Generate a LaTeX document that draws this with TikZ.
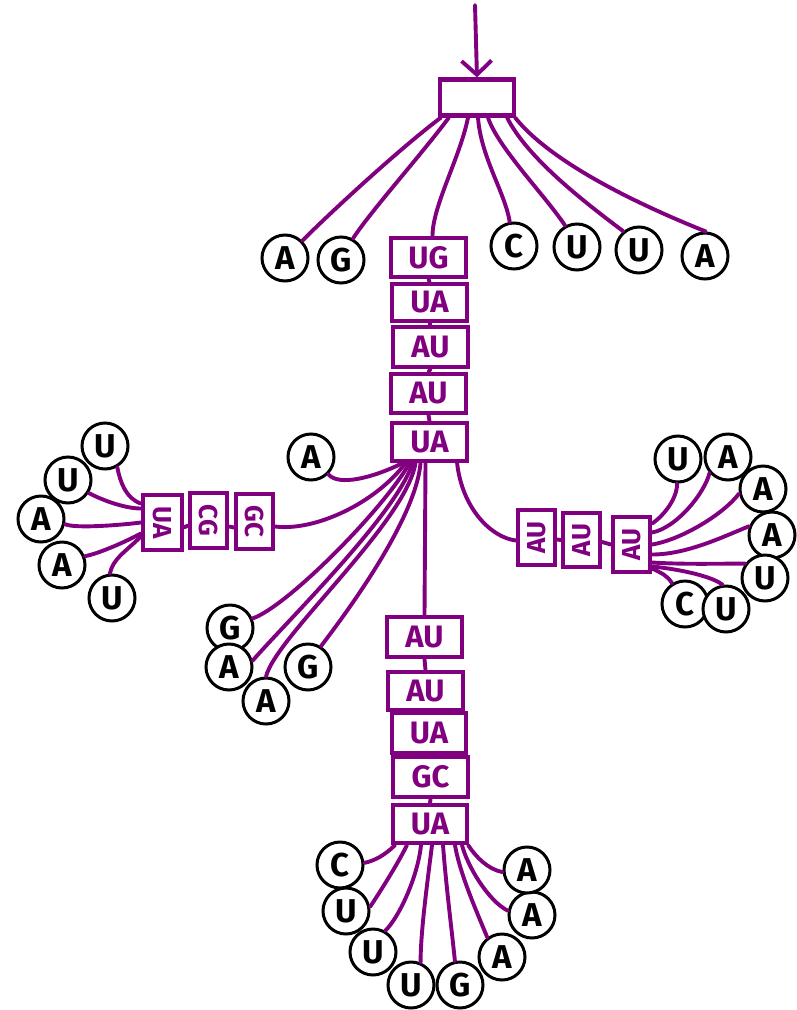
\documentclass[tikz,border=0pt]{standalone}
\usepackage{fontspec}
\setmainfont{Fira Sans}
\usetikzlibrary{arrows.meta}
\definecolor{rnapurple}{RGB}{128,0,128}
\begin{document}
\begin{tikzpicture}[x=1pt,y=-1pt,
 base/.style={circle,draw=black,line width=3pt,fill=white,minimum size=46pt,inner sep=0pt,font=\fontsize{33}{33}\selectfont\bfseries},
 pair/.style={rectangle,draw=rnapurple,line width=4.2pt,fill=white,inner sep=0pt,text=rnapurple,font=\fontsize{31}{31}\selectfont\bfseries,minimum width=75pt,minimum height=38pt},
 vpair/.style={rectangle,draw=rnapurple,line width=4.2pt,fill=white,inner sep=0pt,text=rnapurple,font=\fontsize{26}{26}\selectfont\bfseries,minimum width=37pt,minimum height=55pt},
 link/.style={draw=rnapurple,line width=3.9pt,line cap=round}]
\useasboundingbox (0,0) rectangle (796,1010);

% top multiloop box
\node[pair,minimum width=74pt,minimum height=36pt] (top) at (477,97.5) {};
\coordinate (entry) at (475,5);

% top-row unpaired bases
\node[base] (cA1) at (285,258) {A};
\node[base] (cG1) at (341,260) {G};
\node[base] (cC1) at (514,246) {C};
\node[base] (cU1) at (577,247) {U};
\node[base] (cU2) at (639,250) {U};
\node[base] (cA2) at (705,256) {A};

% stem 1
\node[pair,minimum height=39pt] (b1) at (428.5,257.5) {UG};
\node[pair,minimum height=37pt] (b2) at (429.5,302.5) {UA};
\node[pair,minimum height=40pt] (b3) at (430.5,347) {AU};
\node[pair,minimum height=39pt] (b4) at (428.5,393.5) {AU};
\node[pair] (b5) at (429.5,442) {UA};

\node[base] (cA3) at (311,457) {A};

% left branch
\node[vpair] (lGC) at (254.5,521.5) {\rotatebox{-90}{GC}};
\node[vpair] (lCG) at (208.5,520.5) {\rotatebox{-90}{CG}};
\node[vpair,minimum width=39pt] (lUA) at (162.5,522.5) {\rotatebox{-90}{UA}};
\node[base] (lU1) at (105,446) {U};
\node[base] (lU2) at (68,480) {U};
\node[base] (lA1) at (41,519) {A};
\node[base] (lA2) at (62,565) {A};
\node[base] (lU3) at (112,598) {U};

% lower-left bases
\node[base] (llG1) at (230,628) {G};
\node[base] (llA1) at (229,667) {A};
\node[base] (llA2) at (266,701) {A};
\node[base] (llG2) at (308,667) {G};

% right branch
\node[vpair] (rAU1) at (536.5,537.5) {\rotatebox{90}{AU}};
\node[vpair,minimum height=54pt] (rAU2) at (581.5,540) {\rotatebox{90}{AU}};
\node[vpair] (rAU3) at (631.5,544.5) {\rotatebox{90}{AU}};
\node[base] (rU1) at (678,459) {U};
\node[base] (rA1) at (728,457) {A};
\node[base] (rA2) at (763,489) {A};
\node[base] (rA3) at (772,535) {A};
\node[base] (rU2) at (765,578) {U};
\node[base] (rC) at (685,604) {C};
\node[base] (rU3) at (726,609) {U};

% bottom stem
\node[pair,minimum height=40pt] (d1) at (424.5,637) {AU};
\node[pair] (d2) at (425.5,691) {AU};
\node[pair,minimum width=74pt,minimum height=40pt] (d3) at (429,733) {UA};
\node[pair,minimum height=40pt] (d4) at (430.5,777) {GC};
\node[pair,minimum width=74pt] (d5) at (430,824) {UA};

% hairpin bases
\node[base] (bC) at (340,865) {C};
\node[base] (bU1) at (346,911) {U};
\node[base] (bU2) at (373,952) {U};
\node[base] (bU3) at (411,985) {U};
\node[base] (bG) at (460,985) {G};
\node[base] (bA1) at (502,957) {A};
\node[base] (bA2) at (532,915) {A};
\node[base] (bA3) at (527,870) {A};

% ---------- connectors ----------
\draw[link,-{Straight Barb[length=14pt,width=30pt,line width=3.9pt]}] (entry) -- (top.north);

\draw[link] ([xshift=3pt]top.south west) .. controls +(-40,30) and +(30,-30) .. (cA1.45);
\draw[link] ([xshift=11pt]top.south west) .. controls +(-30,40) and +(20,-30) .. (cG1.61);
\draw[link] ([xshift=-9pt]top.south) .. controls +(-8,40) and +(0,-30) .. ([xshift=4pt]b1.north);
\draw[link] ([xshift=1pt]top.south) .. controls +(3,40) and +(-5,-30) .. (cC1.100);
\draw[link] ([xshift=11pt]top.south) .. controls +(10,30) and +(-20,-30) .. (cU1.119);
\draw[link] ([xshift=-9pt]top.south east) .. controls +(20,40) and +(-40,-30) .. (cU2.130);
\draw[link] ([xshift=-1pt]top.south east) .. controls +(40,50) and +(-50,-20) .. (cA2.88);

\draw[link] (b1.south) -- (b2.north);
\draw[link] (b2.south) -- (b3.north);
\draw[link] (b3.south) -- (b4.north);
\draw[link] (b4.south) -- (b5.north);

\draw[link] (cA3.-45) .. controls +(10,12) and +(-30,15) .. ([xshift=-27pt]b5.south);

% left branch
\draw[link] ([xshift=-24pt]b5.south) .. controls +(-30,40) and +(40,5) .. ([yshift=-5pt]lGC.east);
\draw[link] ([yshift=-6pt]lCG.east) -- ([yshift=-6pt]lGC.west);
\draw[link] ([yshift=-5pt]lUA.east) -- ([yshift=-5pt]lCG.west);
\draw[link] (lU1.-60) .. controls +(3,15) and +(-15,-5) .. ([yshift=19pt]lUA.west);
\draw[link] (lU2.-32) .. controls +(15,8) and +(-15,0) .. ([yshift=14pt]lUA.west);
\draw[link] (lA1.-12) .. controls +(10,5) and +(-15,2) .. (lUA.west);
\draw[link] (lA2.21) .. controls +(15,-3) and +(-15,8) .. ([yshift=-11pt]lUA.west);
\draw[link] (lU3.95) .. controls +(3,-15) and +(-15,15) .. ([yshift=-14pt]lUA.west);

% lower-left bases
\draw[link] ([xshift=-20pt]b5.south) .. controls +(-25,45) and +(35,-12) .. (llG1.23);
\draw[link] ([xshift=-17pt]b5.south) .. controls +(-15,50) and +(30,-35) .. (llA1.15);
\draw[link] ([xshift=-14pt]b5.south) .. controls +(-10,60) and +(10,-40) .. (llA2.90);
\draw[link] ([xshift=-9pt]b5.south) .. controls +(-5,60) and +(15,-20) .. (llG2.58);

% right branch
\draw[link] ([xshift=-12pt]b5.south east) .. controls +(5,45) and +(-25,-3) .. ([yshift=-3pt]rAU1.west);
\draw[link] ([yshift=-2pt]rAU1.east) -- ([yshift=0pt]rAU2.west);
\draw[link] ([yshift=-2pt]rAU2.east) -- ([yshift=0pt]rAU3.west);
\draw[link] ([yshift=21pt]rAU3.east) .. controls +(12,-8) and +(0,15) .. (rU1.-92);
\draw[link] ([yshift=12pt]rAU3.east) .. controls +(25,-5) and +(-5,20) .. (rA1.-139);
\draw[link] ([yshift=0pt]rAU3.east) .. controls +(30,-5) and +(-15,20) .. (rA2.-169);
\draw[link] ([yshift=-10pt]rAU3.east) .. controls +(35,0) and +(-25,10) .. (rA3.159);
\draw[link] ([yshift=-18pt]rAU3.east) .. controls +(30,2) and +(-30,0) .. (rU2.144);
\draw[link] ([yshift=-24pt]rAU3.east) .. controls +(10,5) and +(-5,-8) .. (rC.122);
\draw[link] ([yshift=-22pt]rAU3.east) .. controls +(30,3) and +(-10,-8) .. (rU3.98);

% bottom stem
\draw[link] ([xshift=-4pt]b5.south) -- (d1.north);
\draw[link] (d1.south) -- (d2.north);
\draw[link] (d2.south) -- (d3.north);
\draw[link] (d3.south) -- (d4.north);
\draw[link] (d4.south) -- (d5.north);

% hairpin loop
\draw[link] ([xshift=-35pt]d5.south) .. controls +(-10,10) and +(10,-2) .. (bC.5);
\draw[link] ([xshift=-23pt]d5.south) .. controls +(-10,20) and +(10,-15) .. (bU1.10);
\draw[link] ([xshift=-9pt]d5.south) .. controls +(-3,30) and +(15,-15) .. (bU2.60);
\draw[link] ([xshift=2pt]d5.south) .. controls +(-5,40) and +(0,-30) .. (bU3.67);
\draw[link] ([xshift=13pt]d5.south) .. controls +(3,40) and +(-3,-30) .. (bG.102);
\draw[link] ([xshift=25pt]d5.south) .. controls +(5,30) and +(-8,-20) .. (bA1.127);
\draw[link] ([xshift=32pt]d5.south) .. controls +(5,20) and +(-20,-10) .. (bA2.170);
\draw[link] ([xshift=-1pt]d5.south east) .. controls +(8,12) and +(-15,-3) .. (bA3.185);
\end{tikzpicture}
\end{document}
